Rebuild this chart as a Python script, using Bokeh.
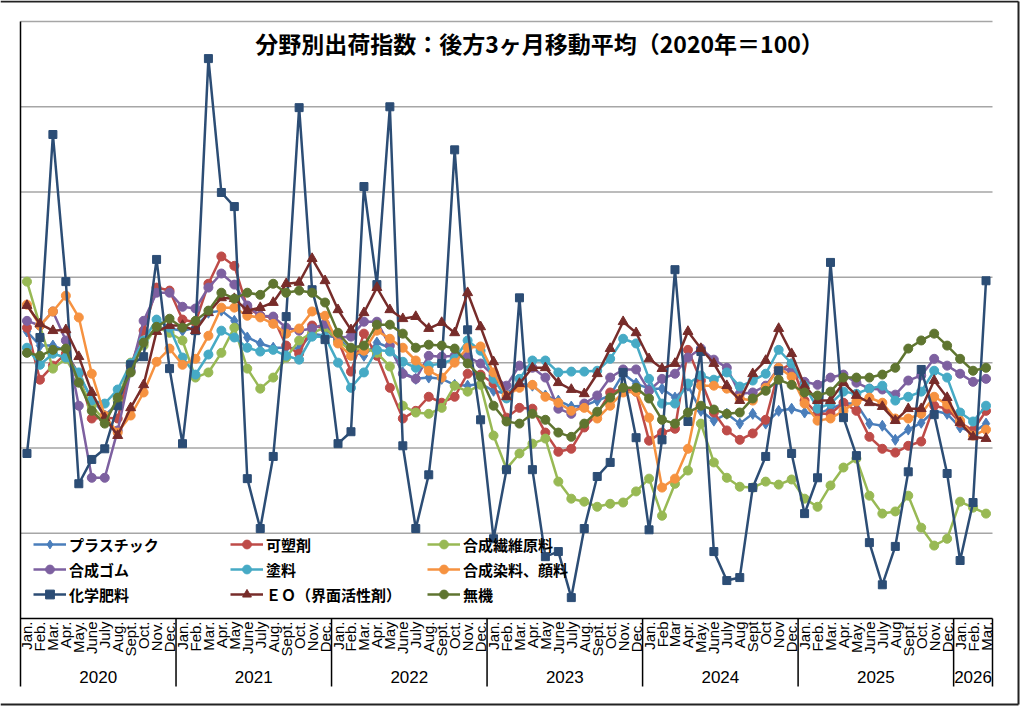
import math

from bokeh.core.properties import value
from bokeh.embed import file_html
from bokeh.models import ColumnDataSource, Label, Legend, LegendItem, Range1d
from bokeh.plotting import figure
from bokeh.resources import INLINE

# ---------------------------------------------------------------------------
# Data: shipment index by sector, trailing 3-month moving average (2020 = 100)
# ---------------------------------------------------------------------------
year_labels = ["2020", "2021", "2022", "2023", "2024", "2025", "2026"]

month_labels = [
    "Jan.", "Feb.", "Mar.", "Apr.", "May.", "June", "July", "Aug.", "Sept.", "Oct.", "Nov.", "Dec.",
    "Jan.", "Feb.", "Mar.", "Apr.", "May", "June", "July", "Aug.", "Sept.", "Oct.", "Nov.", "Dec.",
    "Jan.", "Feb.", "Mar.", "Apr.", "May", "June", "July", "Aug.", "Sept.", "Oct.", "Nov.", "Dec.",
    "Jan.", "Feb.", "Mar.", "Apr.", "May", "June", "July", "Aug.", "Sept.", "Oct.", "Nov.", "Dec.",
    "Jan.", "Feb", "Mar", "Apr.", "May.", "June", "July", "Aug", "Sept", "Oct", "Nov", "Dec.",
    "Jan.", "Feb.", "Mar.", "Apr.", "May.", "June", "July", "Aug", "Sept.", "Oct.", "Nov.", "Dec.",
    "Jan.", "Feb.", "Mar.",
]
months_per_year = [12, 12, 12, 12, 12, 12, 3]

plastic = [
    107.3, 104.0, 104.0, 102.8, 97.0, 91.6, 87.6, 90.4, 99.8, 104.5, 108.2, 108.0,
    107.5, 108.2, 111.7, 112.2, 109.8, 105.9, 104.5, 103.5, 103.5, 103.3, 106.8, 106.3,
    105.9, 102.8, 101.6, 104.7, 103.5, 97.7, 96.2, 96.5, 96.2, 94.8, 94.6, 95.1,
    93.4, 92.7, 95.1, 94.6, 92.3, 91.1, 89.7, 89.9, 91.1, 92.3, 97.4, 95.1,
    93.9, 93.9, 91.8, 94.6, 88.7, 86.4, 88.0, 85.7, 88.0, 85.7, 88.7, 89.2,
    88.3, 88.0, 89.2, 90.4, 90.4, 85.7, 85.2, 81.9, 84.3, 85.9, 88.7, 88.0,
    84.8, 83.6, 85.7,
]
plasticizer = [
    108.2, 96.0, 99.3, 102.1, 97.4, 86.9, 87.1, 86.9, 99.3, 107.5, 117.6, 116.9,
    110.1, 109.4, 118.5, 124.9, 122.7, 112.9, 111.0, 110.6, 104.0, 102.1, 108.7, 108.0,
    105.2, 97.9, 106.8, 101.6, 94.1, 86.9, 88.7, 92.0, 90.6, 92.0, 97.4, 97.2,
    95.1, 87.1, 89.4, 89.2, 83.6, 79.1, 79.8, 84.8, 88.0, 93.0, 93.9, 93.2,
    81.7, 83.6, 84.5, 103.0, 95.8, 88.3, 84.1, 81.9, 83.4, 86.6, 98.1, 99.8,
    91.1, 88.0, 88.0, 90.6, 88.7, 82.6, 79.8, 78.9, 80.5, 81.5, 89.9, 89.2,
    85.9, 84.1, 88.7,
]
synthetic_fiber = [
    119.0, 108.7, 98.6, 100.9, 95.8, 89.9, 86.4, 91.1, 100.0, 104.0, 108.4, 107.0,
    105.2, 96.5, 97.7, 102.3, 108.2, 98.6, 93.9, 96.5, 101.2, 105.2, 107.0, 108.2,
    105.2, 102.8, 103.5, 102.3, 99.1, 89.9, 88.3, 88.0, 89.4, 94.6, 93.2, 94.8,
    82.9, 75.1, 78.7, 81.0, 82.2, 72.1, 68.1, 67.4, 66.2, 66.9, 67.2, 69.8,
    72.8, 64.1, 71.6, 74.7, 85.7, 76.6, 73.0, 70.9, 70.7, 72.1, 71.4, 72.6,
    68.1, 66.2, 71.2, 75.4, 77.5, 68.8, 64.6, 65.1, 68.8, 61.3, 57.1, 58.7,
    67.4, 66.0, 64.6,
]
synthetic_rubber = [
    109.8, 108.7, 112.0, 105.2, 89.9, 73.0, 73.0, 84.1, 98.1, 109.8, 116.4, 116.4,
    113.1, 112.7, 117.6, 120.9, 118.3, 113.4, 111.0, 110.8, 108.2, 107.5, 108.0, 109.1,
    105.9, 106.1, 109.6, 109.6, 104.0, 97.4, 96.2, 101.6, 101.4, 101.6, 101.4, 99.8,
    97.0, 94.6, 99.3, 98.8, 96.5, 89.2, 88.0, 90.4, 92.3, 96.5, 98.4, 98.4,
    93.4, 96.2, 97.4, 101.2, 103.3, 100.7, 98.8, 92.7, 93.0, 94.6, 98.8, 98.1,
    95.5, 94.8, 96.5, 97.2, 95.3, 93.9, 93.7, 92.5, 95.8, 97.0, 100.9, 99.3,
    97.4, 95.5, 96.2,
]
paint = [
    103.5, 99.5, 102.1, 101.2, 97.7, 91.1, 90.4, 93.7, 99.8, 105.2, 110.1, 108.2,
    101.2, 97.2, 101.9, 107.5, 105.9, 103.5, 102.6, 103.0, 101.6, 100.7, 106.1, 106.1,
    100.0, 94.1, 97.7, 103.0, 102.6, 100.2, 98.8, 99.3, 99.8, 100.9, 105.2, 102.8,
    96.2, 91.6, 96.2, 100.5, 100.5, 97.7, 97.9, 97.9, 98.1, 100.9, 105.6, 104.5,
    96.2, 90.4, 90.4, 95.1, 97.0, 96.0, 97.7, 94.4, 95.8, 97.4, 103.0, 99.8,
    94.6, 89.2, 90.4, 93.2, 92.7, 93.9, 94.6, 91.1, 92.0, 93.2, 98.1, 96.5,
    88.3, 86.2, 89.9,
]
dyes_pigments = [
    113.6, 108.7, 112.0, 115.7, 110.6, 97.4, 87.6, 83.6, 87.6, 93.0, 100.2, 103.3,
    99.5, 100.9, 106.3, 112.9, 112.9, 111.0, 110.6, 109.1, 106.8, 108.0, 112.0, 111.0,
    104.5, 101.6, 102.8, 107.5, 105.6, 103.5, 100.5, 98.1, 96.5, 100.0, 103.5, 103.8,
    97.7, 92.3, 94.1, 94.8, 92.0, 90.6, 88.7, 89.4, 86.9, 89.9, 93.0, 93.2,
    87.1, 70.7, 72.8, 79.8, 94.6, 94.6, 93.9, 91.6, 91.1, 94.1, 98.8, 96.7,
    90.4, 86.4, 86.9, 88.7, 90.9, 91.8, 90.6, 86.9, 86.9, 88.0, 92.0, 90.2,
    86.4, 82.9, 84.3,
]
fertilizer = [
    78.7, 105.9, 153.5, 119.0, 71.6, 77.3, 79.8, 89.9, 99.5, 101.4, 124.2, 98.6,
    81.0, 107.5, 171.3, 139.9, 136.6, 72.8, 61.1, 78.0, 110.8, 159.8, 117.1, 105.4,
    81.0, 83.8, 141.3, 118.3, 160.0, 80.5, 61.1, 73.7, 99.8, 149.9, 107.7, 86.6,
    58.7, 74.9, 115.2, 74.9, 54.5, 55.7, 44.9, 61.1, 73.3, 76.6, 97.7, 82.4,
    60.8, 81.9, 121.8, 86.2, 102.6, 55.7, 48.9, 49.6, 70.7, 78.0, 98.1, 78.7,
    64.6, 73.0, 123.5, 87.1, 78.2, 57.8, 47.9, 56.9, 74.4, 98.4, 87.8, 74.0,
    53.6, 67.2, 119.2,
]
eo_surfactant = [
    113.4, 109.1, 107.5, 107.7, 101.4, 93.0, 87.1, 82.9, 89.4, 94.8, 107.3, 108.7,
    108.7, 107.5, 111.7, 115.2, 115.0, 112.2, 112.9, 114.1, 118.5, 118.8, 124.4, 119.2,
    112.4, 107.7, 111.7, 117.6, 112.4, 110.3, 110.8, 108.0, 109.4, 107.0, 116.4, 108.4,
    100.2, 92.0, 95.1, 98.8, 98.8, 95.3, 93.7, 92.7, 97.4, 103.3, 109.6, 107.0,
    100.9, 98.6, 99.8, 107.3, 103.3, 99.8, 94.6, 91.1, 97.4, 100.5, 108.0, 102.1,
    94.6, 91.1, 91.1, 95.3, 92.3, 90.6, 89.7, 86.4, 89.2, 89.2, 95.8, 91.8,
    85.9, 82.6, 82.2,
]
inorganic = [
    102.3, 101.6, 103.0, 103.3, 95.3, 88.7, 85.7, 91.8, 97.7, 104.7, 108.4, 110.3,
    108.2, 109.8, 112.2, 116.4, 115.0, 116.4, 115.9, 118.5, 116.4, 116.9, 116.4, 114.1,
    107.0, 103.5, 104.0, 108.9, 108.9, 106.8, 103.5, 104.2, 104.0, 103.3, 99.8, 96.7,
    89.9, 86.2, 85.7, 88.0, 86.6, 83.6, 82.6, 85.7, 88.5, 91.8, 94.1, 94.1,
    91.6, 86.6, 85.7, 88.3, 89.9, 89.0, 88.0, 88.3, 91.6, 93.4, 96.0, 94.8,
    93.0, 92.3, 93.2, 96.5, 96.5, 96.5, 97.2, 98.8, 103.3, 105.2, 106.8, 104.0,
    100.9, 98.1, 98.8,
]

# (legend label, values, colour, marker, marker size)
series = [
    ("プラスチック", plastic, "#4A7EBB", "diamond", 11),
    ("可塑剤", plasticizer, "#BE4B48", "circle", 9),
    ("合成繊維原料", synthetic_fiber, "#98B954", "circle", 9),
    ("合成ゴム", synthetic_rubber, "#7D60A0", "circle", 9),
    ("塗料", paint, "#46AAC5", "circle", 9),
    ("合成染料、顔料", dyes_pigments, "#F69240", "circle", 9),
    ("化学肥料", fertilizer, "#2C4D75", "square", 8),
    ("ＥＯ（界面活性剤）", eo_surfactant, "#772C2A", "triangle", 10),
    ("無機", inorganic, "#5F7530", "circle", 9),
]

title_text = "分野別出荷指数：後方3ヶ月移動平均（2020年＝100）"

# ---------------------------------------------------------------------------
# Layout (canvas pixels) and the data <-> pixel mapping
# ---------------------------------------------------------------------------
W, H = 1020, 706
PLOT_L, PLOT_R, PLOT_T, PLOT_B = 20, 992, 21, 618   # inner plotting box
AXIS_FOOT = 686                                     # bottom of category axis band
Y_MIN, Y_MAX, Y_STEP = 40, 180, 20

n = len(month_labels)
ppx = (PLOT_R - PLOT_L) / n
ppy = (PLOT_B - PLOT_T) / (Y_MAX - Y_MIN)
x_start = -0.5 - PLOT_L / ppx
x_end = x_start + W / ppx
y_end = Y_MAX + PLOT_T / ppy
y_start = y_end - H / ppy


def X(px):
    return x_start + px / ppx


def Y(py):
    return y_end - py / ppy


p = figure(
    width=W, height=H,
    x_range=Range1d(x_start, x_end), y_range=Range1d(y_start, y_end),
    x_axis_location=None, y_axis_location=None,
    output_backend="svg", toolbar_location=None,
    min_border=0, outline_line_color=None,
    background_fill_color="white", border_fill_color="white",
)
p.grid.visible = False

x_idx = list(range(n))
x_lo, x_hi = -0.5, n - 0.5

# horizontal gridlines
grid_vals = list(range(Y_MIN + Y_STEP, Y_MAX + 1, Y_STEP))
p.segment(x0=[x_lo] * len(grid_vals), x1=[x_hi] * len(grid_vals), y0=grid_vals, y1=grid_vals,
          line_color="#A6A6A6", line_width=1.5)

# axis lines: left spine, category axis and year separators
bounds = [x_lo]
acc = x_lo
for cnt in months_per_year:
    acc += cnt
    bounds.append(acc)
p.segment(x0=[x_lo], x1=[x_lo], y0=[Y(AXIS_FOOT)], y1=[Y_MAX], line_color="black", line_width=1.5)
p.segment(x0=[x_lo], x1=[x_hi], y0=[Y_MIN], y1=[Y_MIN], line_color="black", line_width=1.5)
p.segment(x0=bounds[1:], x1=bounds[1:], y0=[Y(AXIS_FOOT)] * (len(bounds) - 1),
          y1=[Y_MIN] * (len(bounds) - 1), line_color="black", line_width=1.5)

# outer chart border
p.segment(x0=[X(0), X(1018), X(1018)], x1=[X(1018), X(1018), X(0)],
          y0=[Y(1), Y(1), Y(704)], y1=[Y(1), Y(704), Y(704)],
          line_color="#222222", line_width=2)

# month and year labels
p.text(x=x_idx, y=[Y(PLOT_B + 3)] * n, text=month_labels, angle=math.pi / 2,
       text_align="right", text_baseline="middle",
       text_font=value("Liberation Sans"), text_font_size="15px", text_color="black")
year_x = [(bounds[i] + bounds[i + 1]) / 2 for i in range(len(year_labels))]
p.text(x=year_x, y=[Y(676)] * len(year_labels), text=year_labels,
       text_align="center", text_baseline="middle",
       text_font=value("Liberation Sans"), text_font_size="17px", text_color="black")

# series
items = []
for label, vals, color, marker, size in series:
    src = ColumnDataSource(dict(x=x_idx, y=vals))
    ln = p.line("x", "y", source=src, line_color=color, line_width=2.5)
    sc = p.scatter("x", "y", source=src, marker=marker, size=size,
                   fill_color=color, line_color=color, line_width=1)
    items.append(LegendItem(label=label, renderers=[ln, sc]))

legend = Legend(
    items=items, location=(33, 101), orientation="horizontal", ncols=3,
    glyph_width=33, glyph_height=22, label_standoff=3, label_width=158, label_height=22,
    spacing=3, padding=0, margin=0,
    background_fill_alpha=0, border_line_alpha=0,
    label_text_font="Noto Sans CJK JP", label_text_font_style="bold",
    label_text_font_size="15px", label_text_color="black",
)
p.add_layout(legend)

p.add_layout(Label(
    x=X(539), y=Y(42), text=title_text, text_align="center", text_baseline="middle",
    text_font="Noto Sans CJK JP", text_font_style="bold", text_font_size="23px",
    text_color="black",
))

open("out.html", "w").write(file_html(p, INLINE))
